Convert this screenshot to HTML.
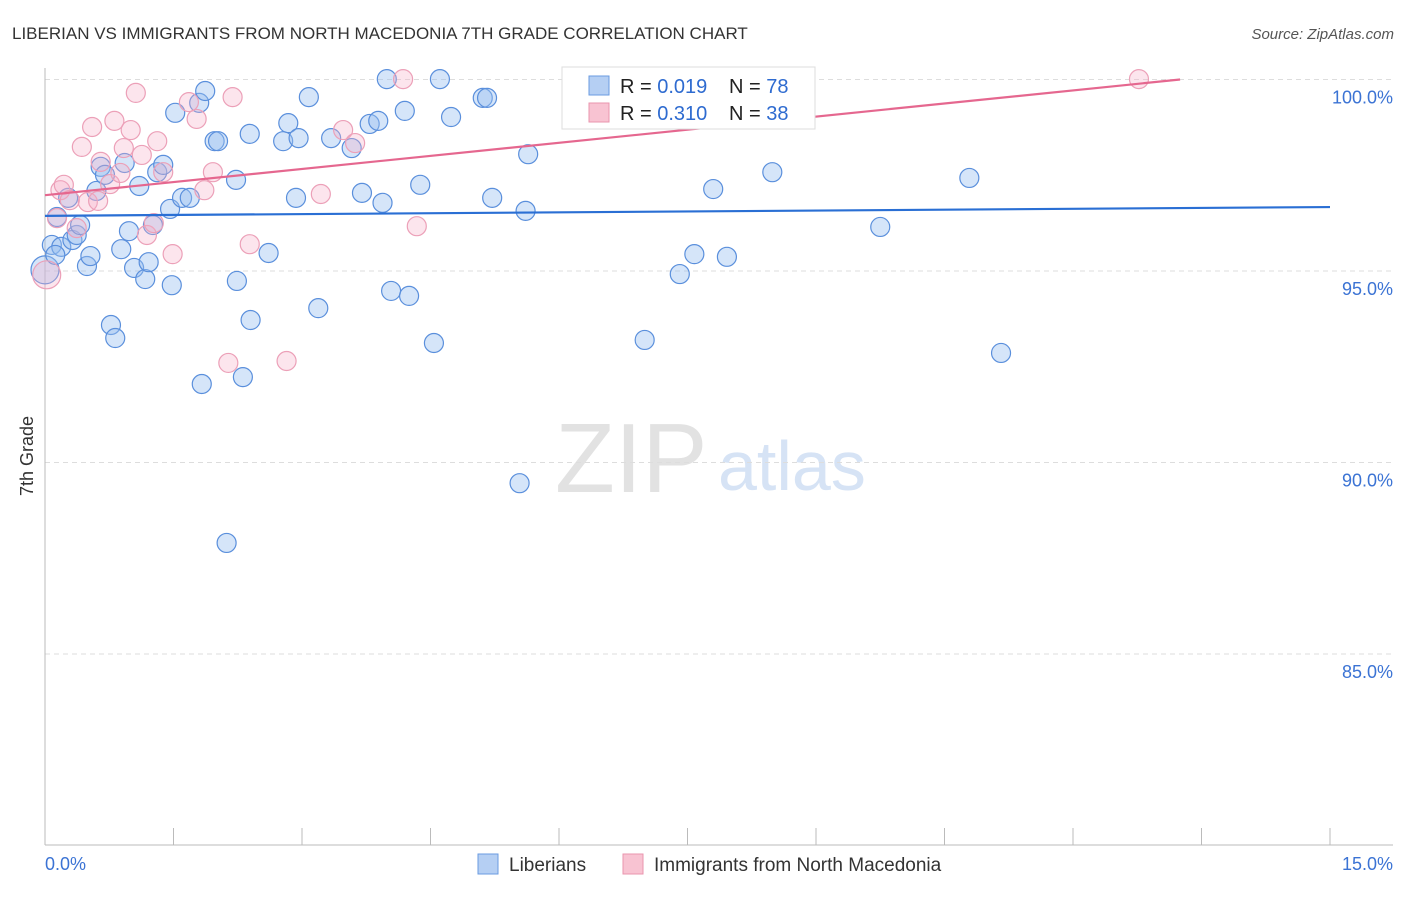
<!DOCTYPE html>
<html><head><meta charset="utf-8"><style>
body{margin:0;background:#fff;font-family:"Liberation Sans",sans-serif;}
svg text{font-family:"Liberation Sans",sans-serif;}
</style></head><body>
<svg id="chart" width="1406" height="892" viewBox="0 0 1406 892" xmlns="http://www.w3.org/2000/svg">
<text x="12" y="39" font-size="17" fill="#333">LIBERIAN VS IMMIGRANTS FROM NORTH MACEDONIA 7TH GRADE CORRELATION CHART</text>
<text x="1394" y="39" font-size="15" fill="#555" font-style="italic" text-anchor="end">Source: ZipAtlas.com</text>
<text x="555" y="492" font-size="98" fill="#e2e2e2" font-family="Liberation Serif">ZIP</text>
<text x="718" y="490" font-size="70" fill="#d6e3f5">atlas</text>
<text transform="translate(33,456) rotate(-90)" font-size="18" fill="#333" text-anchor="middle">7th Grade</text>
<g id="grid"></g><g id="axes"></g><g id="pts"></g><g id="trend"></g>
<g>
<rect x="562" y="67" width="253" height="62" fill="#fff" stroke="#ddd"/>
<rect x="589" y="76" width="20" height="19" fill="#b5cff3" stroke="#6a9be0"/>
<rect x="589" y="103" width="20" height="19" fill="#f8c3d2" stroke="#ea94ae"/>
<text x="620" y="93" font-size="20" fill="#222">R = <tspan fill="#2e6bd0">0.019</tspan></text>
<text x="729" y="93" font-size="20" fill="#222">N = <tspan fill="#2e6bd0">78</tspan></text>
<text x="620" y="120" font-size="20" fill="#222">R = <tspan fill="#2e6bd0">0.310</tspan></text>
<text x="729" y="120" font-size="20" fill="#222">N = <tspan fill="#2e6bd0">38</tspan></text>
</g>
<g>
<rect x="478" y="854" width="20" height="20" fill="#b5cff3" stroke="#6a9be0"/>
<text x="509" y="871" font-size="19" fill="#333">Liberians</text>
<rect x="623" y="854" width="20" height="20" fill="#f8c3d2" stroke="#ea94ae"/>
<text x="654" y="871" font-size="19" fill="#333">Immigrants from North Macedonia</text>
</g>
</svg>
<script>
const yTicks=[100,95,90,85];
const yTickLabels=["100.0%","95.0%","90.0%","85.0%"];
const xTicks=[0,1.5,3,4.5,6,7.5,9,10.5,12,13.5,15];
const xEndLabels=["0.0%","15.0%"];
const blueX=[0.14,0.08,0.19,0.27,0.32,0.37,0.41,0.49,0.53,0.60,0.65,0.70,0.77,0.82,0.89,0.93,0.98,1.04,1.10,1.17,1.21,1.26,1.31,1.38,1.46,1.48,1.60,1.52,1.69,1.80,1.83,1.87,1.98,2.02,2.12,2.23,2.24,2.31,2.39,2.40,2.61,2.78,2.84,2.93,2.96,3.08,3.19,3.34,3.58,3.70,3.79,3.89,3.94,3.99,4.04,4.20,4.25,4.38,4.54,4.61,4.74,5.11,5.16,5.22,5.54,5.61,5.64,6.23,7.00,7.41,7.58,7.80,7.96,8.49,9.75,10.79,11.16,0.00,0.12];
const blueY=[96.41,95.68,95.63,96.91,95.81,95.94,96.20,95.13,95.39,97.09,97.72,97.51,93.59,93.25,95.57,97.82,96.04,95.08,97.22,94.79,95.23,96.20,97.58,97.77,96.62,94.63,96.91,99.13,96.91,99.39,92.05,99.70,98.39,98.39,87.90,97.38,94.74,92.23,98.58,93.72,95.47,98.39,98.86,96.91,98.47,99.54,94.03,98.47,98.21,97.04,98.84,98.92,96.78,100.01,94.48,99.18,94.35,97.25,93.12,100.01,99.02,99.52,99.52,96.91,89.46,96.57,98.05,99.36,93.20,94.92,95.44,97.14,95.37,97.58,96.15,97.43,92.86,95.03,95.42];
const blueSize=blueX.map((v,i)=>i===77?2:1);
const pinkX=[0.02,0.14,0.18,0.22,0.29,0.37,0.43,0.50,0.55,0.62,0.65,0.76,0.81,0.88,0.92,1.00,1.06,1.13,1.19,1.27,1.31,1.38,1.49,1.68,1.77,1.86,1.96,2.14,2.19,2.39,2.82,3.22,3.48,3.62,4.18,4.34,8.08,12.77];
const pinkY=[94.90,96.38,97.11,97.25,96.85,96.12,98.24,96.80,98.76,96.83,97.85,97.27,98.92,97.56,98.21,98.68,99.65,98.03,95.94,96.25,98.39,97.58,95.44,99.41,98.97,97.11,97.58,92.60,99.54,95.70,92.65,97.01,98.68,98.34,100.01,96.17,100.01,100.01];
const pinkSize=pinkX.map((v,i)=>i===0?2:1);
const blueTrend=[96.44,96.67];
const pinkTrend=[96.98,100.0];
const pinkTrendEndX=13.25;
const NS="http://www.w3.org/2000/svg";
const X0=45,X1=1330,Y100=79.5,PY=38.3;
const sx=v=>X0+(v/15)*(X1-X0);
const sy=v=>Y100+(100-v)*PY;
function mk(tag,attrs,parent){const e=document.createElementNS(NS,tag);for(const k in attrs)e.setAttribute(k,attrs[k]);parent.appendChild(e);return e;}
const grid=document.getElementById('grid'),axes=document.getElementById('axes'),pts=document.getElementById('pts'),trend=document.getElementById('trend');
yTicks.forEach((t,i)=>{
 const l=mk('line',{x1:45,x2:1393,y1:sy(t),y2:sy(t),stroke:'#ddd','stroke-dasharray':'5,4'},grid);
 
 
 const tx=mk('text',{x:1393,y:sy(t)+24,'font-size':18,fill:'#3b73d4','text-anchor':'end'},axes);
 tx.textContent=yTickLabels[i];
 
 
});
const ya=mk('line',{x1:45,x2:45,y1:68,y2:845,stroke:'#bbb'},axes);


const xa=mk('line',{x1:45,x2:1393,y1:845,y2:845,stroke:'#bbb'},axes);


xTicks.forEach(t=>{
 const l=mk('line',{x1:sx(t),x2:sx(t),y1:828,y2:845,stroke:'#bbb'},axes);
 
 
});
const xl0=mk('text',{x:45,y:870,'font-size':18,fill:'#3b73d4'},axes);xl0.textContent=xEndLabels[0];


const xl1=mk('text',{x:1393,y:870,'font-size':18,fill:'#3b73d4','text-anchor':'end'},axes);xl1.textContent=xEndLabels[1];


blueX.forEach((x,i)=>{
 const c=mk('circle',{cx:sx(x),cy:sy(blueY[i]),r:blueSize[i]===2?14:9.5,fill:'rgba(150,190,240,0.4)',stroke:'#5a8fdc','stroke-width':1.2},pts);
 
 
});
pinkX.forEach((x,i)=>{
 const c=mk('circle',{cx:sx(x),cy:sy(pinkY[i]),r:pinkSize[i]===2?14:9.5,fill:'rgba(245,175,198,0.32)',stroke:'#eca0b8','stroke-width':1.2},pts);
 
 
});
const bl=mk('line',{x1:sx(0),y1:sy(blueTrend[0]),x2:sx(15),y2:sy(blueTrend[1]),stroke:'#2a6fd4','stroke-width':2.2},trend);


const pl=mk('line',{x1:sx(0),y1:sy(pinkTrend[0]),x2:sx(pinkTrendEndX),y2:sy(pinkTrend[1]),stroke:'#e5678f','stroke-width':2.2},trend);


</script>
</body></html>
